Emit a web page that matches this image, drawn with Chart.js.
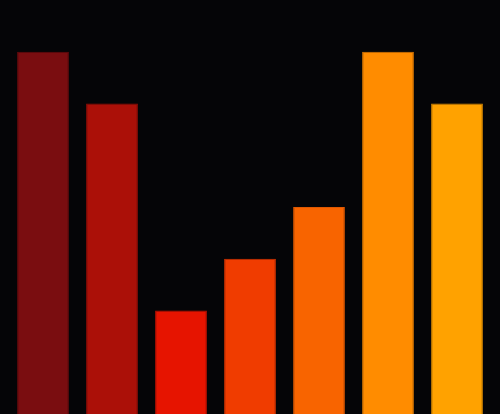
<!DOCTYPE html>
<html lang="en">
<head>
    <meta charset="UTF-8">
    <title>Bars</title>
    <script src="https://cdn.jsdelivr.net/npm/chart.js"></script>
    <style>
        html, body {
            margin: 0;
            padding: 0;
            background-color: #050507;
            overflow: hidden;
        }
        #wrap {
            width: 500px;
            height: 414px;
        }
    </style>
</head>
<body>
    <div id="wrap"><canvas id="barChart"></canvas></div>

    <script>
        // data
        const categories = ['A', 'B', 'C', 'D', 'E', 'F', 'G'];
        const values = [7, 6, 2, 3, 4, 7, 6];
        const barColors = ['#7a0d10', '#ab1008', '#e61400', '#f03c00', '#f86400', '#ff8c00', '#ffa200'];
        const edgeColors = ['#6a0a0c', '#9a0c06', '#c81000', '#d83400', '#e05800', '#e07a00', '#e08e00'];

        const ctx = document.getElementById('barChart').getContext('2d');
        new Chart(ctx, {
            type: 'bar',
            data: {
                labels: categories,
                datasets: [{
                    data: values,
                    backgroundColor: barColors,
                    borderColor: edgeColors,
                    borderWidth: 1,
                    categoryPercentage: 1,
                    barPercentage: 0.75
                }]
            },
            options: {
                responsive: true,
                maintainAspectRatio: false,
                animation: false,
                layout: {
                    padding: { left: 8.5, right: 8.5, top: 0, bottom: 0 }
                },
                plugins: {
                    legend: { display: false },
                    tooltip: { enabled: false }
                },
                scales: {
                    x: { display: false },
                    y: { display: false, min: 0, max: 8 }
                }
            }
        });
    </script>
</body>
</html>
